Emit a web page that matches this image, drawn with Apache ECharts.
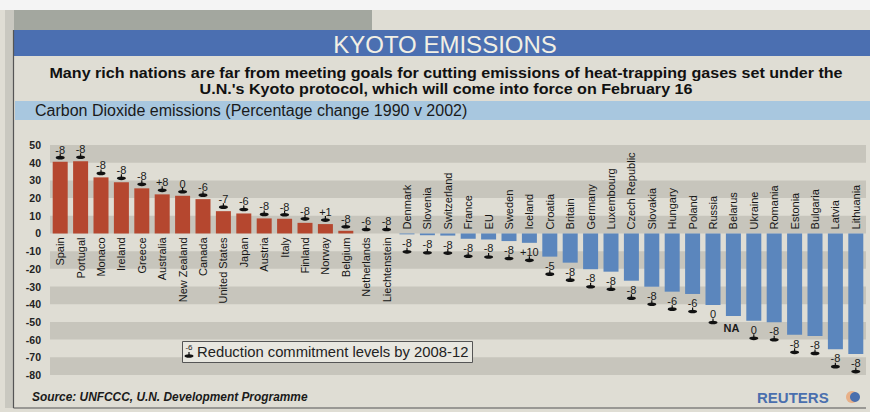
<!DOCTYPE html>
<html>
<head>
<meta charset="utf-8">
<script src="https://cdn.jsdelivr.net/npm/echarts@6/dist/echarts.min.js"></script>
<style>
html,body{margin:0;padding:0;background:#dfddd4;}
#chart{width:870px;height:412px;}
</style>
</head>
<body>
<div id="chart"></div>
<script>
const categories = ['Spain','Portugal','Monaco','Ireland','Greece','Australia','New Zealand','Canada','United States','Japan','Austria','Italy','Finland','Norway','Belgium','Netherlands','Liechtenstein','Denmark','Slovenia','Switzerland','France','EU','Sweden','Iceland','Croatia','Britain','Germany','Luxembourg','Czech Republic','Slovakia','Hungary','Poland','Russia','Belarus','Ukraine','Romania','Estonia','Bulgaria','Latvia','Lithuania'];
const emissions = [40.6,40.8,31.7,28.9,25.5,22.1,21.3,19.4,12.6,11.3,8.5,8.3,6.0,5.3,1.5,0,0,-0.5,-1.0,-1.2,-3.0,-3.4,-4.3,-5.3,-13.1,-16.5,-20.2,-21.6,-26.7,-30.1,-32.9,-34.2,-40.4,-46.6,-49.4,-50.2,-57.3,-57.9,-65.4,-68.2];
const commitments = ['-8','-8','-8','-8','-8','+8','0','-6','-7','-6','-8','-8','-8','+1','-8','-6','-8','-8','-8','-8','-8','-8','-8','+10','-5','-8','-8','-8','-8','-8','-6','-6','0','NA','0','-8','-8','-8','-8','-8'];
const yMin = -80, yMax = 50, yStep = 10;

const FONT = '"Liberation Sans", Arial, sans-serif';
const RED = '#b5472f', BLUE = '#5b86bd';

function marker(x, y, z) {
  return {
    type: 'group', z: z || 0,
    children: [
      {type: 'ellipse', z: z || 0, shape: {cx: x, cy: y, rx: 4.5, ry: 1.8}, style: {fill: '#111'}},
      {type: 'rect', z: z || 0, shape: {x: x - 0.6, y: y - 4, width: 1.2, height: 3}, style: {fill: '#111'}}
    ]
  };
}

const chart = echarts.init(document.getElementById('chart'), null, {renderer: 'svg'});
chart.setOption({
  backgroundColor: '#dfddd4',
  animation: false,
  grid: {left: 50, right: 4, top: 145, bottom: 37},
  xAxis: {
    type: 'category', data: categories,
    axisLine: {show: false}, axisTick: {show: false}, axisLabel: {show: false},
    splitLine: {show: false}
  },
  yAxis: {
    type: 'value', min: yMin, max: yMax, interval: yStep,
    axisLine: {show: false}, axisTick: {show: false}, splitLine: {show: false},
    splitArea: {show: true, areaStyle: {color: ['#c7c5bc', 'rgba(0,0,0,0)']}},
    axisLabel: {margin: 9, color: '#222', fontWeight: 'bold', fontSize: 10.5, fontFamily: FONT}
  },
  series: [
    {
      type: 'bar', barWidth: 15,
      data: emissions.map(v => ({value: v, itemStyle: {color: v >= 0 ? RED : BLUE}})),
      z: 2
    },
    {
      type: 'custom', z: 3,
      data: categories.map((c, i) => [i, emissions[i]]),
      renderItem: function (params, api) {
        const i = api.value(0), v = api.value(1);
        const p = api.coord([i, 0]);
        const below = v >= 0;
        return {
          type: 'text',
          x: p[0], y: below ? p[1] + 4 : p[1] - 4,
          rotation: Math.PI / 2,
          style: {
            text: categories[i], align: below ? 'right' : 'left', verticalAlign: 'middle',
            fill: '#151515', font: '11px ' + FONT
          }
        };
      }
    },
    {
      type: 'custom', z: 4,
      data: categories.map((c, i) => [i, emissions[i]]),
      renderItem: function (params, api) {
        const i = api.value(0), v = api.value(1);
        const p = api.coord([i, v]);
        const lab = commitments[i];
        const children = [];
        if (v >= 0) {
          children.push({type: 'text', x: p[0], y: p[1] - 12, style: {text: lab, align: 'center', verticalAlign: 'middle', fill: '#1a1a1a', font: '11px ' + FONT}});
          children.push(marker(p[0], p[1] - 4));
        } else if (lab === 'NA') {
          children.push({type: 'text', x: p[0] - 2, y: p[1] + 12, style: {text: lab, align: 'center', verticalAlign: 'middle', fill: '#1a1a1a', font: 'bold 11px ' + FONT}});
        } else {
          children.push({type: 'text', x: p[0], y: p[1] + 9, style: {text: lab, align: 'center', verticalAlign: 'middle', fill: '#1a1a1a', font: '11px ' + FONT}});
          children.push(marker(p[0], p[1] + 17.5));
        }
        return {type: 'group', children: children};
      }
    }
  ],
  graphic: [
    {type: 'rect', z: -5, shape: {x: 0, y: 0, width: 870, height: 10}, style: {fill: '#f4f4f4'}},
    {type: 'rect', z: -5, shape: {x: 5, y: 10, width: 367, height: 20}, style: {fill: '#a3a79f'}},
    {type: 'rect', z: -5, shape: {x: 5, y: 10, width: 9, height: 398}, style: {fill: '#c9c8c0'}},
    {type: 'rect', shape: {x: 13, y: 30, width: 857, height: 26}, style: {fill: '#4b6fb1'}},
    {type: 'text', x: 445, y: 44, style: {text: 'KYOTO EMISSIONS', align: 'center', verticalAlign: 'middle', fill: '#f2efe4', font: '24px ' + FONT}},
    {type: 'text', x: 446, y: 72.5, scaleX: 1.15, style: {text: 'Many rich nations are far from meeting goals for cutting emissions of heat-trapping gases set under the', align: 'center', verticalAlign: 'middle', fill: '#111', font: 'bold 14px ' + FONT}},
    {type: 'text', x: 446, y: 89, scaleX: 1.15, style: {text: 'U.N.\'s Kyoto protocol, which will come into force on February 16', align: 'center', verticalAlign: 'middle', fill: '#111', font: 'bold 14px ' + FONT}},
    {type: 'rect', shape: {x: 15, y: 101, width: 855, height: 19}, style: {fill: '#a8c7df'}},
    {type: 'text', x: 35, y: 110.5, style: {text: 'Carbon Dioxide emissions (Percentage change 1990 v 2002)', align: 'left', verticalAlign: 'middle', fill: '#1a1a1a', font: '16px ' + FONT}},
    {type: 'line', z: 20, shape: {x1: 13.5, y1: 30, x2: 13.5, y2: 408}, style: {stroke: '#555', lineWidth: 1.2}},
    {type: 'line', z: 20, shape: {x1: 13.5, y1: 408, x2: 866, y2: 408}, style: {stroke: '#555', lineWidth: 1.2}},
    {type: 'rect', z: 20, shape: {x: 182.5, y: 341.5, width: 290, height: 21}, style: {fill: '#e8e7e0', stroke: '#555', lineWidth: 1}},
    {type: 'text', z: 21, x: 189, y: 347, style: {text: '-6', align: 'center', verticalAlign: 'middle', fill: '#222', font: '8px ' + FONT}},
    marker(189, 356, 21),
    {type: 'text', z: 21, x: 197, y: 352, style: {text: 'Reduction commitment levels by 2008-12', align: 'left', verticalAlign: 'middle', fill: '#222', font: '14.8px ' + FONT}},
    {type: 'text', x: 32, y: 397, style: {text: 'Source: UNFCCC, U.N. Development Programme', align: 'left', verticalAlign: 'middle', fill: '#1a1a1a', font: 'italic bold 11.9px ' + FONT}},
    {type: 'text', x: 757, y: 397, style: {text: 'REUTERS', align: 'left', verticalAlign: 'middle', fill: '#4a6fae', font: 'bold 15px ' + FONT}},
    {type: 'circle', shape: {cx: 852, cy: 397, r: 6}, style: {fill: '#e8b088'}},
    {type: 'circle', shape: {cx: 855, cy: 397, r: 5}, style: {fill: '#4a6fae'}}
  ]
});
</script>
</body>
</html>
